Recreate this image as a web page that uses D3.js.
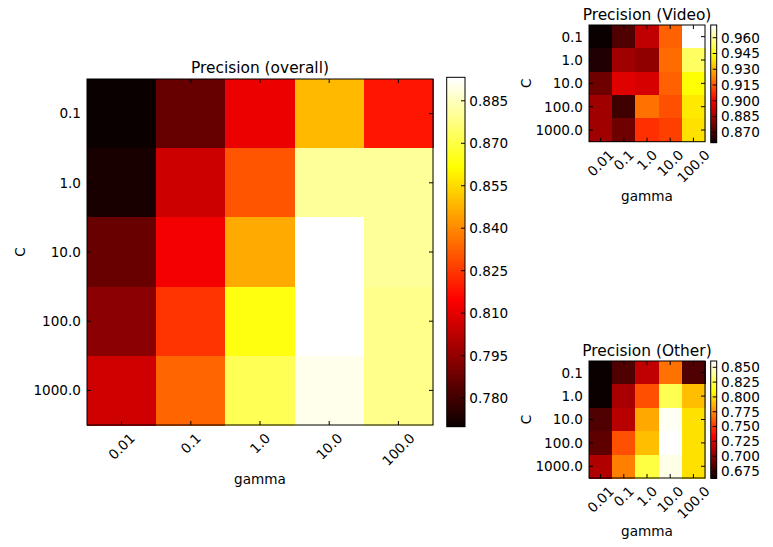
<!DOCTYPE html>
<html>
<head>
<meta charset="utf-8">
<script src="https://cdn.jsdelivr.net/npm/d3@7"></script>
<style>
  body { margin: 0; background: #fff; }
  text { font-family: "DejaVu Sans", sans-serif; font-size: 13.6px; fill: #000; }
  text.title { font-size: 15.4px; }
</style>
</head>
<body>
<svg id="chart" width="773" height="547"></svg>
<script>
// Grid-search axes
const gammaLabels = ["0.01", "0.1", "1.0", "10.0", "100.0"];
const cLabels = ["0.1", "1.0", "10.0", "100.0", "1000.0"];

// Precision per (C row, gamma column)
const overallValues = [
  [0.7699, 0.7868, 0.8117, 0.8493, 0.8187],
  [0.7727, 0.8056, 0.8306, 0.8807, 0.8807],
  [0.7875, 0.8131, 0.8463, 0.8933, 0.8807],
  [0.7936, 0.8244, 0.8636, 0.8933, 0.8786],
  [0.8063, 0.8337, 0.8723, 0.8905, 0.8786]
];
const videoValues = [
  [0.8601, 0.8718, 0.8904, 0.9172, 0.9721],
  [0.8637, 0.8852, 0.8825, 0.9189, 0.9544],
  [0.8771, 0.8958, 0.8946, 0.9172, 0.9437],
  [0.8852, 0.8691, 0.9198, 0.9143, 0.9399],
  [0.8852, 0.8771, 0.9090, 0.9116, 0.9385]
];
const otherValues = [
  [0.6627, 0.6835, 0.7161, 0.7682, 0.6835],
  [0.6630, 0.7092, 0.7585, 0.8260, 0.7915],
  [0.6835, 0.7138, 0.7846, 0.8576, 0.8012],
  [0.6878, 0.7585, 0.7915, 0.8606, 0.8012],
  [0.7116, 0.7727, 0.8230, 0.8556, 0.8012]
];

// Colorbar tick labels
const overallTicks = [0.780, 0.795, 0.810, 0.825, 0.840, 0.855, 0.870, 0.885];
const videoTicks = [0.870, 0.885, 0.900, 0.915, 0.930, 0.945, 0.960];
const otherTicks = [0.675, 0.700, 0.725, 0.750, 0.775, 0.800, 0.825, 0.850];

// "hot" colormap, quantised to 256 levels
function hot(t) {
  t = Math.max(0, Math.min(1, t));
  const i = Math.min(255, Math.floor(t * 256));
  const x = i / 255;
  const k1 = 0.365079, k2 = 0.746032;
  const r = x < k1 ? 0.0416 + (1 - 0.0416) * x / k1 : 1;
  const g = x < k1 ? 0 : (x < k2 ? (x - k1) / (k2 - k1) : 1);
  const b = x < k2 ? 0 : (x - k2) / (1 - k2);
  return d3.rgb(Math.round(r * 255), Math.round(g * 255), Math.round(b * 255)).toString();
}

const svg = d3.select("#chart");
const fmt = d3.format(".3f");

const panels = [
  { title: "Precision (overall)", values: overallValues, ticks: overallTicks,
    box: { x0: 87, x1: 433, y0: 79, y1: 425 },
    cb: { x0: 446.7, x1: 465, y0: 77.3, y1: 426.7 },
    titleY: 72.5, gammaY: 484, cX: 20 },
  { title: "Precision (Video)", values: videoValues, ticks: videoTicks,
    box: { x0: 589, x1: 705, y0: 25, y1: 141.7 },
    cb: { x0: 710.7, x1: 716.7, y0: 25, y1: 142.7 },
    titleY: 19.5, gammaY: 201, cX: 526 },
  { title: "Precision (Other)", values: otherValues, ticks: otherTicks,
    box: { x0: 589, x1: 705, y0: 361, y1: 478 },
    cb: { x0: 710.7, x1: 716.7, y0: 361, y1: 478.3 },
    titleY: 355.5, gammaY: 536, cX: 526 }
];

panels.forEach(p => {
  const g = svg.append("g");
  const { x0, x1, y0, y1 } = p.box;
  const flat = p.values.flat();
  const [vmin, vmax] = d3.extent(flat);
  const color = v => hot((v - vmin) / (vmax - vmin));

  const x = d3.scaleBand().domain(gammaLabels).range([x0, x1]);
  const y = d3.scaleBand().domain(cLabels).range([y0, y1]);

  // cells
  const cells = [];
  p.values.forEach((row, ri) => row.forEach((v, ci) => cells.push({ c: cLabels[ri], gm: gammaLabels[ci], v })));
  g.selectAll("rect.cell").data(cells).join("rect")
    .attr("class", "cell")
    .attr("x", d => x(d.gm)).attr("y", d => y(d.c))
    .attr("width", x.bandwidth() + 0.5).attr("height", y.bandwidth() + 0.5)
    .attr("fill", d => color(d.v))
    .attr("shape-rendering", "crispEdges");

  // frame
  g.append("rect").attr("x", x0).attr("y", y0).attr("width", x1 - x0).attr("height", y1 - y0)
    .attr("fill", "none").attr("stroke", "#000").attr("stroke-width", 1);

  // inward ticks on all four sides
  const tl = 4;
  gammaLabels.forEach(gm => {
    const cx = x(gm) + x.bandwidth() / 2;
    g.append("line").attr("x1", cx).attr("x2", cx).attr("y1", y1).attr("y2", y1 - tl).attr("stroke", "#000");
    g.append("line").attr("x1", cx).attr("x2", cx).attr("y1", y0).attr("y2", y0 + tl).attr("stroke", "#000");
  });
  cLabels.forEach(c => {
    const cy = y(c) + y.bandwidth() / 2;
    g.append("line").attr("x1", x0).attr("x2", x0 + tl).attr("y1", cy).attr("y2", cy).attr("stroke", "#000");
    g.append("line").attr("x1", x1).attr("x2", x1 - tl).attr("y1", cy).attr("y2", cy).attr("stroke", "#000");
  });

  // y tick labels
  g.selectAll("text.ylab").data(cLabels).join("text")
    .attr("class", "ylab")
    .attr("x", x0 - 6)
    .attr("y", d => y(d) + y.bandwidth() / 2)
    .attr("dy", "0.36em")
    .attr("text-anchor", "end")
    .text(d => d);

  // x tick labels rotated 45 degrees, bbox centred under the tick
  gammaLabels.forEach(gm => {
    const t = g.append("text").attr("text-anchor", "middle").attr("dy", "0.36em").text(gm);
    const w = t.node().getComputedTextLength();
    const h = 10.5;
    const cx = x(gm) + x.bandwidth() / 2;
    const cy = y1 + 7 + (w + h) * Math.SQRT1_2 / 2;
    t.attr("transform", `translate(${cx},${cy}) rotate(-45)`);
  });

  // titles and axis labels
  g.append("text").attr("class", "title").attr("x", (x0 + x1) / 2).attr("y", p.titleY)
    .attr("text-anchor", "middle").text(p.title);
  g.append("text").attr("x", (x0 + x1) / 2).attr("y", p.gammaY).attr("text-anchor", "middle").text("gamma");
  g.append("text").attr("transform", `translate(${p.cX},${(y0 + y1) / 2}) rotate(-90)`)
    .attr("text-anchor", "middle").attr("dy", "0.36em").text("C");

  // colorbar
  const cb = p.cb;
  const cs = d3.scaleLinear().domain([vmin, vmax]).range([cb.y1, cb.y0]);
  const steps = d3.range(256);
  const sh = (cb.y1 - cb.y0) / 256;
  g.selectAll("rect.cb").data(steps).join("rect")
    .attr("class", "cb")
    .attr("x", cb.x0).attr("width", cb.x1 - cb.x0)
    .attr("y", i => cb.y1 - (i + 1) * sh).attr("height", sh + 0.6)
    .attr("fill", i => hot((i + 0.5) / 256))
    .attr("shape-rendering", "crispEdges");
  g.append("rect").attr("x", cb.x0).attr("y", cb.y0).attr("width", cb.x1 - cb.x0).attr("height", cb.y1 - cb.y0)
    .attr("fill", "none").attr("stroke", "#000").attr("stroke-width", 1);
  p.ticks.forEach(v => {
    const ty = cs(v);
    g.append("line").attr("x1", cb.x1).attr("x2", cb.x1 - 4).attr("y1", ty).attr("y2", ty).attr("stroke", "#000");
    g.append("text").attr("x", cb.x1 + 4.3).attr("y", ty).attr("dy", "0.36em").text(fmt(v));
  });
});
</script>
</body>
</html>
